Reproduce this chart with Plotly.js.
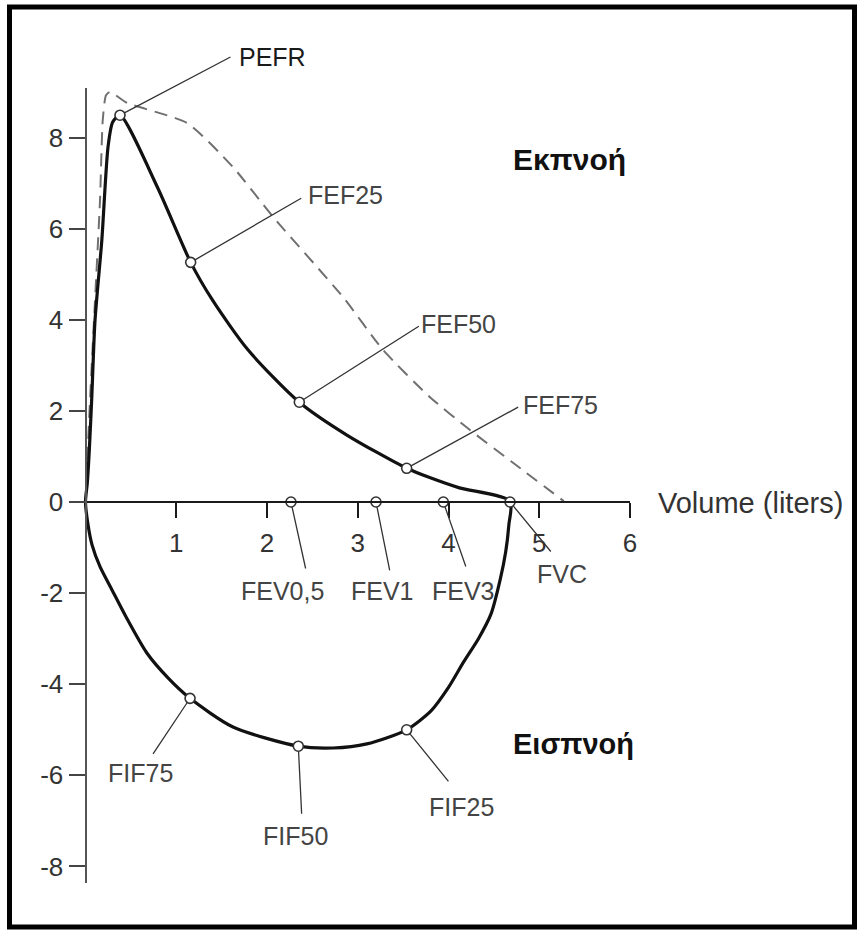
<!DOCTYPE html>
<html>
<head>
<meta charset="utf-8">
<script src="https://cdn.plot.ly/plotly-3.0.1.min.js"></script>
<style>
html,body{margin:0;padding:0;background:#fff;}
#chart{width:859px;height:934px;}
</style>
</head>
<body>
<div id="chart"></div>
<script>
// ---- data (volume in liters, flow in L/s) ----
const loopVolume = [0, 0.02, 0.042, 0.068, 0.105, 0.18, 0.248, 0.30, 0.38, 0.79, 1.159, 1.40, 1.79, 2.356, 2.88, 3.539, 3.80, 4.12, 4.678,
                    4.665, 4.63, 4.57, 4.47, 4.33, 4.17, 4.0, 3.81, 3.539, 3.10, 2.73, 2.345, 1.625, 1.152, 0.909, 0.678, 0.446, 0.292, 0.16, 0.072, 0.028, 0];
const loopFlow   = [0, 0.42, 1.14, 2.24, 3.99, 5.75, 7.79, 8.34, 8.49, 6.92, 5.26, 4.43, 3.34, 2.19, 1.47, 0.74, 0.53, 0.31, 0.02,
                    -0.5, -1.1, -1.7, -2.45, -3.0, -3.50, -4.07, -4.58, -5.00, -5.31, -5.40, -5.36, -4.94, -4.31, -3.86, -3.32, -2.52, -1.93, -1.42, -0.94, -0.50, 0];
const refVolume  = [0, 0.05, 0.105, 0.16, 0.19, 0.226, 0.27, 0.457, 1.118, 1.625, 2.066, 2.837, 3.278, 3.796, 4.237, 4.711, 5.27];
const refFlow    = [0, 2.24, 4.43, 6.63, 8.38, 8.93, 9.00, 8.76, 8.32, 7.35, 6.26, 4.50, 3.34, 2.30, 1.58, 0.86, 0.02];
const pointNames  = ['PEFR', 'FEF25', 'FEF50', 'FEF75', 'FVC', 'FEV0,5', 'FEV1', 'FEV3', 'FIF75', 'FIF50', 'FIF25'];
const pointVolume = [0.38, 1.159, 2.356, 3.539, 4.678, 2.264, 3.201, 3.943, 1.152, 2.345, 3.539];
const pointFlow   = [8.49, 5.26, 2.19, 0.74, 0, 0, 0, 0, -4.31, -5.36, -5.00];
const xTickVals = [1, 2, 3, 4, 5, 6];
const yTickVals = [-8, -6, -4, -2, 0, 2, 4, 6, 8];
const xTitle = 'Volume (liters)';
const expLabel = 'Εκπνοή';
const inspLabel = 'Εισπνοή';

// ---- layout / style (pixel offsets of leader lines and labels) ----
const W = 859, H = 934;
const leader = {
  'PEFR':   {ax: 112,  ay: -59, dx: 152.5, dy: 58,  color: '#1a1a1a'},
  'FEF25':  {ax: 112,  ay: -65, dx: 155,   dy: 67},
  'FEF50':  {ax: 121,  ay: -77, dx: 159,   dy: 78},
  'FEF75':  {ax: 113,  ay: -62, dx: 154,   dy: 63},
  'FVC':    {ax: 42,   ay: 51,  dx: 52,    dy: -72},
  'FEV0,5': {ax: 15,   ay: 68,  dx: -8.5,  dy: -89},
  'FEV1':   {ax: 14,   ay: 70,  dx: 6.5,   dy: -89},
  'FEV3':   {ax: 23,   ay: 66,  dx: 20,    dy: -89},
  'FIF75':  {ax: -38,  ay: 57,  dx: -49.5, dy: -75},
  'FIF50':  {ax: 3.4,  ay: 69,  dx: -3.3,  dy: -90},
  'FIF25':  {ax: 43,   ay: 53,  dx: 55,    dy: -77}
};
const FONT = '"Liberation Sans", Arial, Helvetica, sans-serif';
const labelFont = {family: FONT, size: 25, color: '#444'};

const traces = [
  {x: refVolume, y: refFlow, type: 'scatter', mode: 'lines',
   line: {color: '#707070', width: 2, dash: '13px,8px', shape: 'spline', smoothing: 0.6},
   hoverinfo: 'skip', showlegend: false},
  {x: loopVolume, y: loopFlow, type: 'scatter', mode: 'lines',
   line: {color: '#111', width: 3.2, shape: 'spline', smoothing: 0.7},
   hoverinfo: 'skip', showlegend: false},
  {x: pointVolume, y: pointFlow, type: 'scatter', mode: 'markers', text: pointNames,
   marker: {size: 10, color: '#fff', line: {color: '#333', width: 1.6}},
   cliponaxis: false, hoverinfo: 'text', showlegend: false}
];

const annotations = [];
pointNames.forEach((name, i) => {
  const s = leader[name];
  annotations.push({
    x: pointVolume[i], y: pointFlow[i], xref: 'x', yref: 'y',
    text: '', showarrow: true, arrowhead: 0, arrowwidth: 1.3, arrowcolor: '#333',
    ax: s.ax, ay: s.ay, standoff: 5
  });
  annotations.push({
    x: pointVolume[i], y: pointFlow[i], xref: 'x', yref: 'y',
    text: name, showarrow: false, xanchor: 'center', yanchor: 'middle',
    xshift: s.dx, yshift: s.dy,
    font: Object.assign({}, labelFont, s.color ? {color: s.color} : {})
  });
});
annotations.push({xref: 'paper', yref: 'paper', x: 656 / W, y: 1 - 503 / H, xanchor: 'left', yanchor: 'middle',
  text: xTitle, showarrow: false, font: {family: FONT, size: 29, color: '#333'}});
annotations.push({xref: 'paper', yref: 'paper', x: 511 / W, y: 1 - 160 / H, xanchor: 'left', yanchor: 'middle',
  text: '<b>' + expLabel + '</b>', showarrow: false, font: {family: FONT, size: 30, color: '#111'}});
annotations.push({xref: 'paper', yref: 'paper', x: 511 / W, y: 1 - 744 / H, xanchor: 'left', yanchor: 'middle',
  text: '<b>' + inspLabel + '</b>', showarrow: false, font: {family: FONT, size: 29, color: '#111'}});

const ORIGIN_X = 85.5, X6 = 630, ORIGIN_Y = 502, XMIN = -0.04;
const pxPerX = (X6 - ORIGIN_X) / 6;
const yTop = 9.087, yBot = -8.363;

const layout = {
  width: W, height: H,
  margin: {l: 0, r: 0, t: 0, b: 0, pad: 0},
  paper_bgcolor: '#fff', plot_bgcolor: 'rgba(0,0,0,0)',
  showlegend: false,
  xaxis: {
    domain: [(ORIGIN_X + XMIN * pxPerX) / W, X6 / W], range: [XMIN, 6],
    anchor: 'free', position: (H - ORIGIN_Y) / H,
    showline: true, linecolor: '#1a1a1a', linewidth: 2,
    ticks: 'outside', ticklen: 15, tickwidth: 2, tickcolor: '#1a1a1a',
    tickmode: 'array', tickvals: xTickVals, ticktext: xTickVals.map(String),
    tickfont: {family: FONT, size: 26, color: '#333'}, ticklabelstandoff: 3,
    showgrid: false, zeroline: false, fixedrange: true
  },
  yaxis: {
    domain: [(H - 883) / H, (H - 88) / H], range: [yBot, yTop],
    anchor: 'free', position: ORIGIN_X / W,
    showline: true, linecolor: '#555', linewidth: 2,
    ticks: 'outside', ticklen: 16, tickwidth: 2, tickcolor: '#444',
    tickmode: 'array', tickvals: yTickVals, ticktext: yTickVals.map(String),
    tickfont: {family: FONT, size: 26, color: '#333'},
    showgrid: false, zeroline: false, fixedrange: true
  },
  annotations: annotations,
  shapes: [{type: 'rect', xref: 'paper', yref: 'paper',
            x0: 9.5 / W, x1: 854.5 / W, y0: 1 - 927 / H, y1: 1 - 7 / H,
            line: {color: '#000', width: 5}, fillcolor: 'rgba(0,0,0,0)'}]
};

Plotly.newPlot('chart', traces, layout, {displayModeBar: false, staticPlot: true});
</script>
</body>
</html>
